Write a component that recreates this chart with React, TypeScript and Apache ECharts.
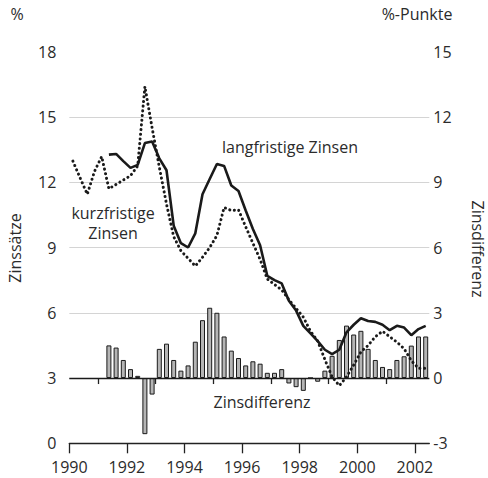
import React, { useEffect, useRef } from "react";
import * as echarts from "echarts";

// Quarterly data; short rates start 1990 Q1, long rates and spread start 1991 Q2
const shortStartYear = 1990;
const shortStartQuarter = 1;
const shortRates = [
  12.97, 12.2, 11.45, 12.5,
  13.18, 11.7, 11.9, 12.1,
  12.3, 12.75, 16.4, 14.5,
  12.7, 11.0, 9.5, 8.85,
  8.5, 8.15, 8.55, 9.0,
  9.55, 10.84, 10.7, 10.73,
  9.95, 9.2, 8.45, 7.55,
  7.3, 7.05, 6.6, 6.2,
  5.8, 5.15, 4.7, 3.85,
  3.05, 2.65, 3.05, 3.6,
  4.2, 4.5, 4.9, 5.15,
  4.9, 4.65, 4.35, 3.8,
  3.45, 3.45,
];

const longStartYear = 1991;
const longStartQuarter = 2;
const longRates = [
  13.27, 13.3, 12.97,
  12.66, 12.8, 13.8, 13.87,
  13.1, 12.55, 10.0, 9.2,
  9.0, 9.65, 11.45, 12.15,
  12.84, 12.75, 11.85, 11.6,
  10.7, 9.85, 9.1, 7.7,
  7.5, 7.35, 6.55, 6.1,
  5.4, 5.05, 4.7, 4.3,
  4.1, 4.3, 5.1, 5.45,
  5.75, 5.62, 5.58, 5.45,
  5.2, 5.4, 5.32, 4.97,
  5.25, 5.4,
];

const spreadStartYear = 1991;
const spreadStartQuarter = 2;
const spreads = [
  1.5, 1.4, 0.83, 0.41, 0.1,
  -2.58, -0.76, 1.34, 1.58, 0.83,
  0.34, 0.58, 1.67, 2.66, 3.23,
  3.0, 1.91, 1.26, 0.92, 0.58,
  0.77, 0.66, 0.24, 0.24, 0.41,
  -0.25, -0.42, -0.59, 0, -0.17,
  0.34, 1.02, 1.75, 2.41, 2.0,
  2.17, 1.34, 0.83, 0.51, 0.41,
  0.83, 1.0, 1.49, 1.91, 1.91,
];

const majorYears = [1990, 1992, 1994, 1996, 1998, 2000, 2002];
const minorYears = [1991, 1993, 1995, 1997, 1999, 2001];

const FONT = "'Open Sans', sans-serif";
const TEXT = "#2b2b2b";

function toPoints(values: number[], y0: number, q0: number) {
  return values.map((v, i) => [y0 + (q0 - 1 + i + 0.5) / 4, v]);
}

export default function App() {
  const ref = useRef<HTMLDivElement>(null);

  useEffect(() => {
    if (!ref.current) return;
    const chart = echarts.init(ref.current, undefined, { renderer: "svg" });
    const xCommon = {
      type: "value" as const,
      min: 1990,
      max: 2002.5,
      splitLine: { show: false },
    };
    chart.setOption({
      animation: false,
      grid: { left: 69.3, right: 58.7, top: 51.7, bottom: 34.7 },
      xAxis: [
        {
          ...xCommon,
          axisLine: { show: true, lineStyle: { color: "#222", width: 1.3 } },
          axisTick: {
            show: true,
            customValues: majorYears,
            length: 10,
            lineStyle: { color: "#222", width: 1.3 },
          },
          axisLabel: {
            show: true,
            customValues: majorYears,
            formatter: (v: number) => String(v),
            margin: 16,
            color: TEXT,
            fontFamily: FONT,
            fontSize: 16,
          },
        },
        {
          ...xCommon,
          position: "bottom",
          axisLine: { show: false },
          axisTick: {
            show: true,
            customValues: minorYears,
            length: 6,
            lineStyle: { color: "#222", width: 1.3 },
          },
          axisLabel: { show: false },
        },
      ],
      yAxis: [
        {
          type: "value",
          min: 0,
          max: 18,
          interval: 3,
          position: "left",
          axisLine: { show: false },
          axisTick: { show: false },
          splitLine: {
            show: true,
            showMaxLine: false,
            lineStyle: { color: "#d4d4d4", width: 1.2 },
          },
          axisLabel: {
            margin: 13,
            color: TEXT,
            fontFamily: FONT,
            fontSize: 16,
          },
        },
        {
          type: "value",
          min: -3,
          max: 15,
          interval: 3,
          position: "right",
          axisLine: { show: false },
          axisTick: { show: false },
          splitLine: { show: false },
          axisLabel: {
            margin: 4,
            color: TEXT,
            fontFamily: FONT,
            fontSize: 16,
          },
        },
      ],
      series: [
        {
          type: "bar",
          xAxisIndex: 0,
          yAxisIndex: 1,
          barWidth: 5,
          data: toPoints(spreads, spreadStartYear, spreadStartQuarter),
          itemStyle: { color: "#b5b5b5", borderColor: "#1a1a1a", borderWidth: 1 },
          markLine: {
            silent: true,
            symbol: ["none", "none"],
            label: { show: false },
            lineStyle: { color: "#1a1a1a", width: 1.3, type: "solid" },
            data: [{ yAxis: 0 }],
          },
          z: 2,
        },
        {
          type: "line",
          xAxisIndex: 0,
          yAxisIndex: 0,
          data: toPoints(longRates, longStartYear, longStartQuarter),
          symbol: "none",
          lineStyle: { color: "#1a1a1a", width: 2.6 },
          z: 4,
        },
        {
          type: "line",
          xAxisIndex: 0,
          yAxisIndex: 0,
          data: toPoints(shortRates, shortStartYear, shortStartQuarter),
          symbol: "none",
          lineStyle: { color: "#1a1a1a", width: 3, type: [0.1, 4.6], cap: "round" },
          z: 3,
        },
      ],
      graphic: [
        {
          type: "text",
          x: 17,
          y: 14,
          style: { text: "%", font: `16px ${FONT}`, fill: TEXT, textAlign: "center", textVerticalAlign: "middle" },
        },
        {
          type: "text",
          x: 417,
          y: 14,
          style: { text: "%-Punkte", font: `16px ${FONT}`, fill: TEXT, textAlign: "center", textVerticalAlign: "middle" },
        },
        {
          type: "text",
          x: 15,
          y: 248,
          rotation: Math.PI / 2,
          style: { text: "Zinssätze", font: `16px ${FONT}`, fill: TEXT, textAlign: "center", textVerticalAlign: "middle" },
        },
        {
          type: "text",
          x: 478,
          y: 249,
          rotation: -Math.PI / 2,
          style: { text: "Zinsdifferenz", font: `16px ${FONT}`, fill: TEXT, textAlign: "center", textVerticalAlign: "middle" },
        },
        {
          type: "text",
          x: 290,
          y: 147,
          style: { text: "langfristige Zinsen", font: `16px ${FONT}`, fill: TEXT, textAlign: "center", textVerticalAlign: "middle" },
        },
        {
          type: "text",
          x: 113,
          y: 223,
          style: {
            text: "kurzfristige\nZinsen",
            font: `16px ${FONT}`,
            lineHeight: 20,
            fill: TEXT,
            textAlign: "center",
            textVerticalAlign: "middle",
          },
        },
        {
          type: "text",
          x: 262,
          y: 402,
          style: { text: "Zinsdifferenz", font: `16px ${FONT}`, fill: TEXT, textAlign: "center", textVerticalAlign: "middle" },
        },
      ],
    });
    return () => chart.dispose();
  }, []);

  return (
    <div
      ref={ref}
      style={{ position: "absolute", left: 0, top: 0, width: 488, height: 478 }}
    />
  );
}
